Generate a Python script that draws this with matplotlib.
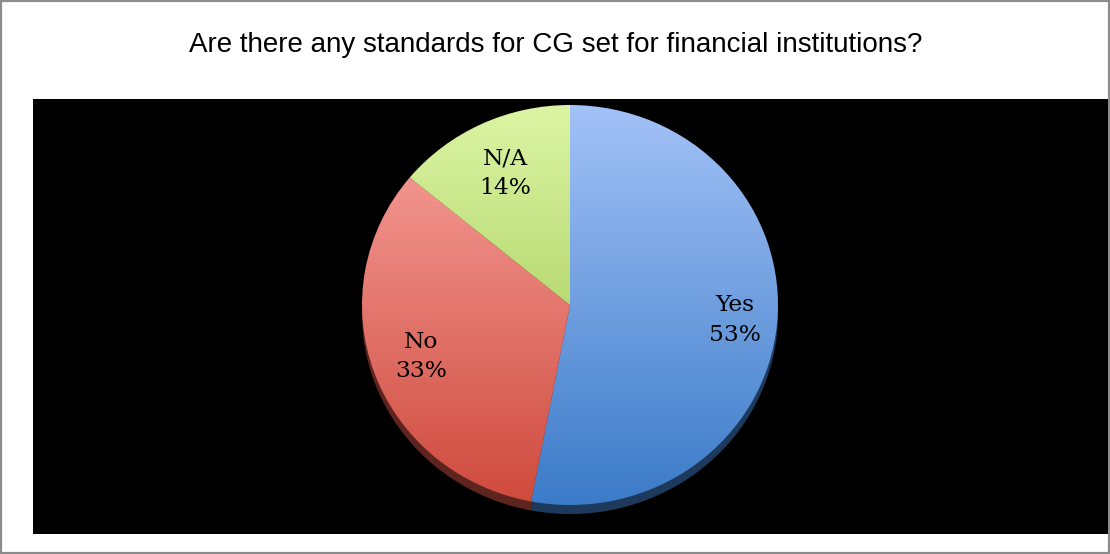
import matplotlib.pyplot as plt
import numpy as np
from matplotlib.patches import Rectangle
from matplotlib.colors import LinearSegmentedColormap

# survey answers
categories = ['Yes', 'No', 'N/A']
shares = [53, 33, 14]
top_colors = ['#a3c2f7', '#f9a5a0', '#dcf5a4']
bottom_colors = ['#3b7bc8', '#cf4a3d', '#95c043']
rim_colors = ['#1d3a5c', '#5e2520', '#3c5020']
label_radius = [0.795, 0.76, 0.73]
title = 'Are there any standards for CG set for financial institutions?'

W, H = 1110, 554
fig = plt.figure(figsize=(W / 100, H / 100), dpi=100)

# background layer in pixel coordinates
bg = fig.add_axes([0, 0, 1, 1])
bg.set_xlim(0, W)
bg.set_ylim(H, 0)
bg.axis('off')
bg.add_patch(Rectangle((1, 1), W - 2.5, H - 2.5, facecolor='white',
                       edgecolor='#8c8c8c', linewidth=1.6, zorder=0))
bg.add_patch(Rectangle((33, 99), 1075, 435, facecolor='black',
                       edgecolor='none', zorder=1))
bg.text(556, 45, title, ha='center', va='center', fontsize=20,
        family='Liberation Sans', color='black', zorder=2)

# pie axes: box spans the pie ellipse plus a margin
cx, cy, rx, ry = 570, 305, 208, 200
m = 1.1
left = (cx - rx * m) / W
bottom = (H - (cy + ry * m)) / H
ax = fig.add_axes([left, bottom, 2 * rx * m / W, 2 * ry * m / H])
ax.patch.set_alpha(0)

# dark rim under the pie
rim, _ = ax.pie(shares, colors=rim_colors, startangle=90, counterclock=False,
                center=(0, -0.045), radius=1.0,
                wedgeprops=dict(linewidth=0))

wedges, _ = ax.pie(shares, startangle=90, counterclock=False, radius=1.0,
                   wedgeprops=dict(linewidth=0))

# vertical gradient fill clipped to each slice
grad = np.linspace(0, 1, 256).reshape(-1, 1)
for w, c0, c1 in zip(wedges, top_colors, bottom_colors):
    w.set_facecolor('none')
    cmap = LinearSegmentedColormap.from_list('g', [c0, c1])
    im = ax.imshow(grad, cmap=cmap, extent=(-1, 1, -1, 1), origin='upper',
                   aspect='auto', zorder=w.get_zorder(), interpolation='bilinear')
    im.set_clip_path(w)

# category and percentage inside each slice
for w, name, v, r in zip(wedges, categories, shares, label_radius):
    mid = np.deg2rad((w.theta1 + w.theta2) / 2)
    ax.text(r * np.cos(mid), r * np.sin(mid), f'{name}\n{v}%',
            ha='center', va='center', fontsize=16.8, family='DejaVu Serif',
            color='black', linespacing=1.45, zorder=5)

ax.set_xlim(-m, m)
ax.set_ylim(-m, m)
ax.set_aspect('auto')
ax.axis('off')

fig.savefig('out.png', dpi=100)
